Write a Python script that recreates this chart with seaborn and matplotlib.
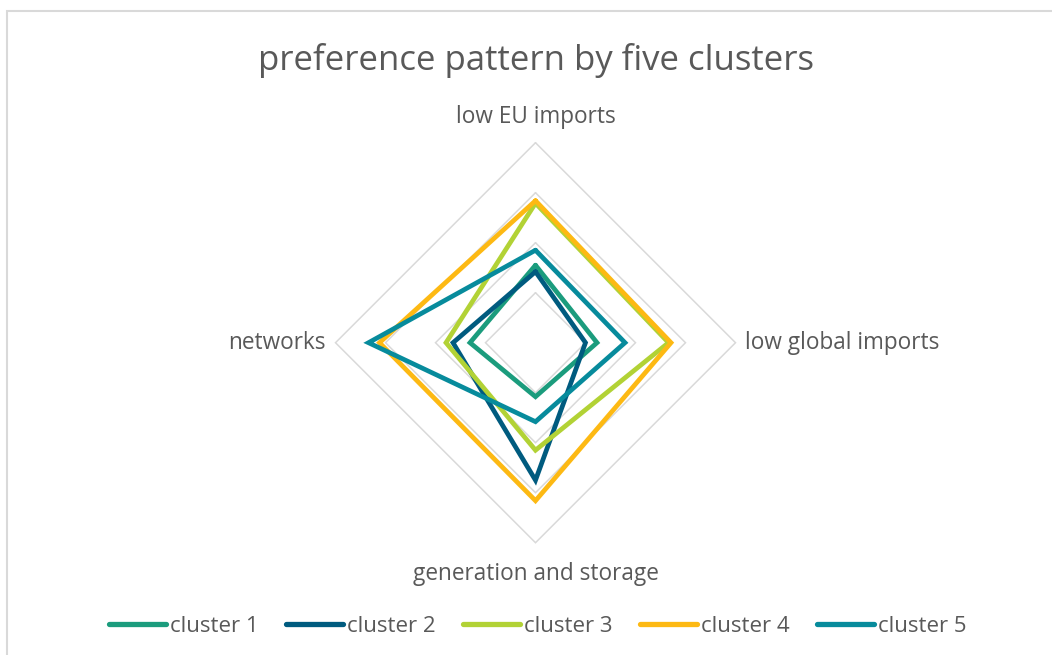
import numpy as np
import pandas as pd
import matplotlib
matplotlib.use("Agg")
import matplotlib.pyplot as plt
import seaborn as sns
from matplotlib.patches import Rectangle

# radar axes, clockwise from the top (Excel order)
categories = ["low EU imports", "low global imports", "generation and storage", "networks"]
clusters = ["cluster 1", "cluster 2", "cluster 3", "cluster 4", "cluster 5"]

cluster1 = [1.55, 1.23, 1.08, 1.31]
cluster2 = [1.42, 1.00, 2.75, 1.65]
cluster3 = [2.79, 2.66, 2.15, 1.79]
cluster4 = [2.84, 2.71, 3.16, 3.12]
cluster5 = [1.85, 1.79, 1.58, 3.34]

ring_levels = [1, 2, 3, 4]

colors = ["#1b9c7d", "#005b7f", "#b2d235", "#fdb913", "#078b9c"]
text_color = "#595959"

sns.set_theme(style="white")
plt.rcParams["font.family"] = ["Open Sans", "DejaVu Sans"]

# long table, each polygon closed by repeating its first point
angles = np.deg2rad([0, 90, 180, 270])
rows = []
for name, vals in zip(clusters, [cluster1, cluster2, cluster3, cluster4, cluster5]):
    for i in list(range(len(categories))) + [0]:
        rows.append({"cluster": name, "category": categories[i],
                     "x": vals[i] * np.sin(angles[i]),
                     "y": vals[i] * np.cos(angles[i])})
df = pd.DataFrame(rows)

W, H = 1052, 655
fig = plt.figure(figsize=(W / 100, H / 100), dpi=100)

# chart border (only left/top visible, rest is cropped)
fig.patches.append(Rectangle((7 / W, -0.05), 1.2, 1 - 11 / H + 0.05, transform=fig.transFigure,
                             fill=False, edgecolor="#d9d9d9", lw=1.5))

L = 4.2
cx, cy = 535.5, 655 - 342.7
size = 2 * L * 50
ax = fig.add_axes([(cx - size / 2) / W, (cy - size / 2) / H, size / W, size / H])
ax.set_xlim(-L, L)
ax.set_ylim(-L, L)
ax.set_aspect("equal")
ax.axis("off")

# diamond gridlines
for r in ring_levels:
    gx = [r * np.sin(a) for a in angles] + [0]
    gy = [r * np.cos(a) for a in angles] + [r]
    ax.plot(gx, gy, color="#d9d9d9", lw=1.1, zorder=0)

sns.lineplot(data=df, x="x", y="y", hue="cluster", hue_order=clusters, palette=colors,
             sort=False, estimator=None, lw=3.4, ax=ax, legend=True)
for line in ax.get_lines():
    line.set_solid_joinstyle("miter")

# category labels
lab_kw = dict(color=text_color, fontsize=16.3, clip_on=False)
ax.text(0, 4.52, categories[0], ha="center", va="center", **lab_kw)
ax.text(4.19, 0, categories[1], ha="left", va="center", **lab_kw)
ax.text(0, -4.62, categories[2], ha="center", va="center", **lab_kw)
ax.text(-4.19, 0, categories[3], ha="right", va="center", **lab_kw)

fig.text(536 / W, 1 - 61 / H, "preference pattern by five clusters", ha="center", va="center",
         color=text_color, fontsize=25)

handles, labels = ax.get_legend_handles_labels()
ax.legend_.remove()
leg = fig.legend(handles, labels, loc="center", bbox_to_anchor=(538 / W, 1 - 626 / H), ncol=5,
                 frameon=False, handlelength=2.55, handletextpad=0.18, columnspacing=1.25,
                 fontsize=16)
for t in leg.get_texts():
    t.set_color(text_color)
for h in leg.get_lines():
    h.set_linewidth(3.8)
    h.set_solid_capstyle("round")

fig.savefig("out.png", dpi=100)
